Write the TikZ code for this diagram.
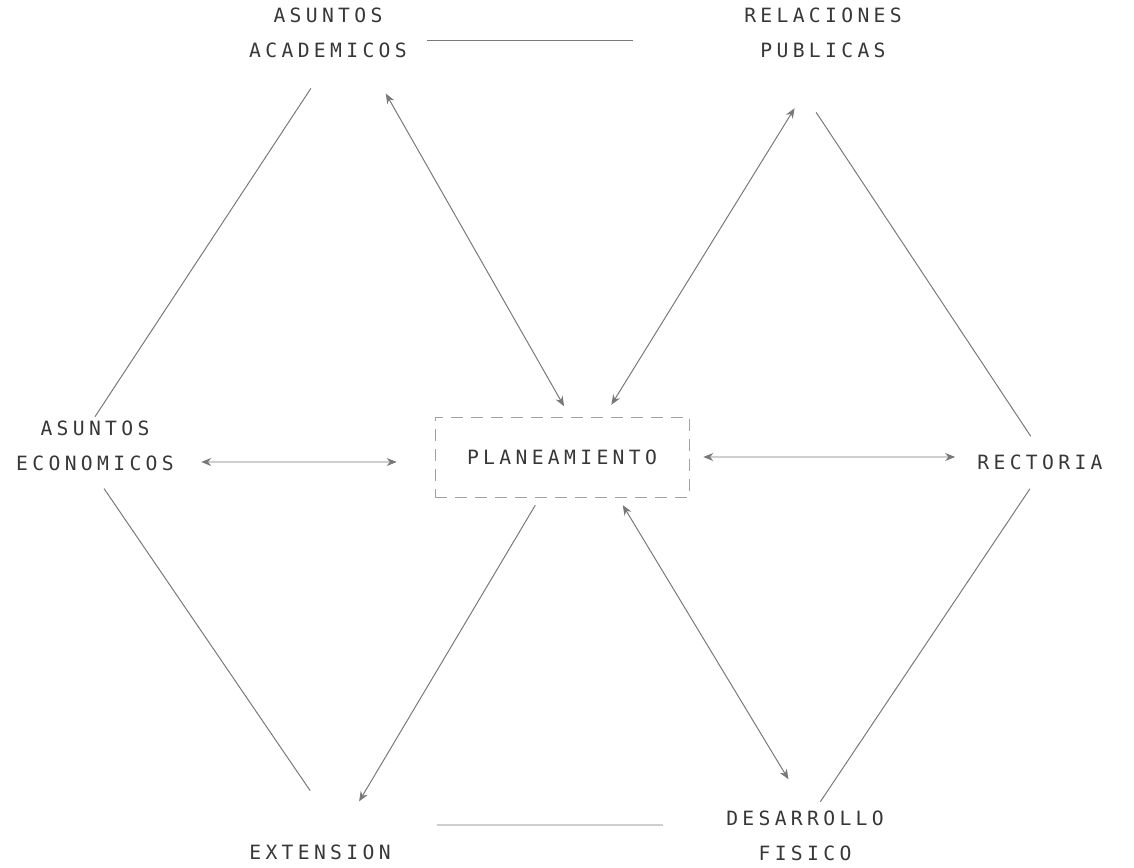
\documentclass[tikz,border=0pt]{standalone}
\usepackage{fontspec}
\newfontfamily\plotfont[LetterSpace=22]{DejaVu Sans Mono}
\usetikzlibrary{
    arrows.meta,
    calc
  }
\definecolor{inkcolor}{RGB}{55,55,55}
\definecolor{linecolor}{RGB}{120,120,120}
\tikzset{
  office/.style={font=\plotfont\fontsize{14pt}{25pt}\selectfont, text=inkcolor, align=center, inner sep=0.1cm},
  link/.style={draw=linecolor, line width=0.7pt},
  twoway/.style={link, {Stealth[length=2.5mm,width=2mm]}-{Stealth[length=2.5mm,width=2mm]}},
  oneway/.style={link, -{Stealth[length=2.5mm,width=2mm]}}
}

\begin{document}
\begin{tikzpicture}[x=0.025cm, y=-0.025cm]

\useasboundingbox (0,0) rectangle (1134,868);

\node[office] (asuntos_academicos) at (328,33) {ASUNTOS\\ACADEMICOS};
\node[office] (relaciones_publicas) at (823,33) {RELACIONES\\PUBLICAS};
\node[office] (asuntos_economicos) at (95,446) {ASUNTOS\\ECONOMICOS};
\node[office, draw=linecolor!70, dash pattern=on 3mm off 2mm,
      minimum width=6.35cm, minimum height=2cm] (planeamiento) at (562,457) {PLANEAMIENTO};
\node[office] (rectoria) at (1040,462) {RECTORIA};
\node[office] (extension) at (320,852) {EXTENSION};
\node[office] (desarrollo_fisico) at (805,836) {DESARROLLO\\FISICO};

% top and bottom rows
\path[link, shorten <=0.4cm, shorten >=2.68cm]
  ([yshift=-0.175cm]asuntos_academicos.east) -- ([yshift=-0.175cm]relaciones_publicas.west);
\path[link, shorten <=1.05cm, shorten >=1.48cm]
  ([yshift=0.675cm]extension.east) -- ([yshift=0.275cm]desarrollo_fisico.west);

% outer hexagon
\path[link, shorten <=0.78cm]
  (asuntos_academicos.south) -- (asuntos_economicos.north);
\path[link, shorten <=1.5cm, shorten >=0.42cm]
  ([xshift=-1cm]relaciones_publicas.south) -- (rectoria.north);
\path[link, shorten <=0.4cm, shorten >=1.5cm]
  (asuntos_economicos.south) -- ([xshift=0.6cm]extension.north);
\path[link, shorten <=0.45cm, shorten >=0.15cm]
  (rectoria.south) -- ([xshift=0.3cm]desarrollo_fisico.north);

% links to planeamiento
\path[twoway, shorten <=0.9cm, shorten >=0.3cm]
  ([xshift=1cm]asuntos_academicos.south) -- ([xshift=0.2cm]planeamiento.north);
\path[twoway, shorten <=1.35cm, shorten >=0.35cm]
  (relaciones_publicas.south) -- ([xshift=1.05cm]planeamiento.north);
\path[twoway, shorten <=0.58cm, shorten >=0.95cm]
  ([yshift=-0.4cm]asuntos_economicos.east) -- ([yshift=-0.125cm]planeamiento.west);
\path[twoway, shorten <=0.35cm, shorten >=0.45cm]
  (planeamiento.east) -- ([yshift=0.125cm]rectoria.west);
\path[oneway, shorten <=0.23cm, shorten >=1.13cm]
  ([xshift=-0.55cm]planeamiento.south) -- ([xshift=0.4cm]extension.north);
\path[twoway, shorten <=0.23cm, shorten >=0.8cm]
  ([xshift=1.4cm]planeamiento.south) -- (desarrollo_fisico.north);

\end{tikzpicture}
\end{document}
